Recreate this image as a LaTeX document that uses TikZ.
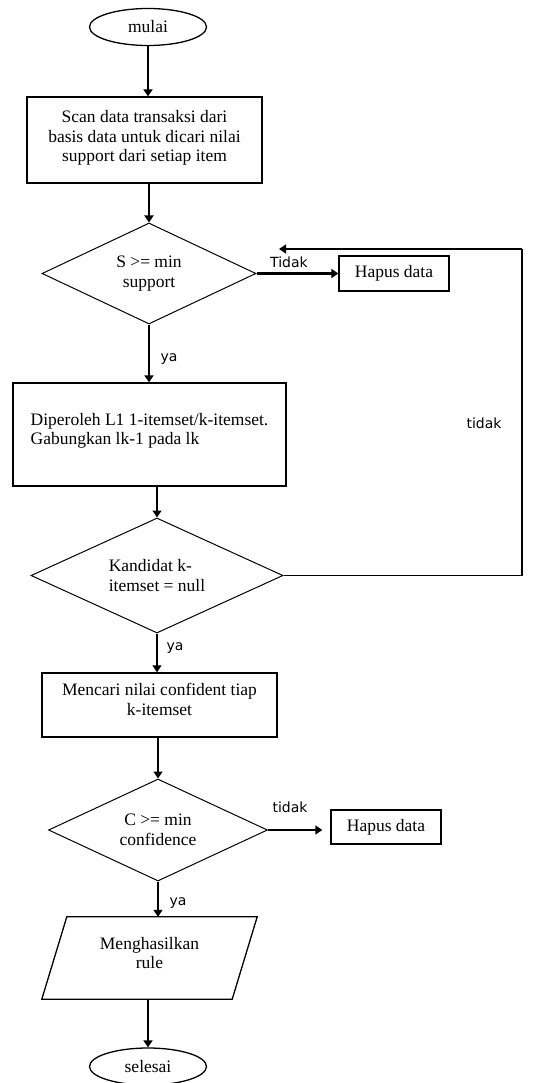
\documentclass[tikz,border=0pt]{standalone}
\usepackage{fontspec}
\setmainfont{Liberation Serif}
\newfontfamily\lblfont{DejaVu Sans}
\usetikzlibrary{shapes.geometric,arrows.meta}
\begin{document}
\begin{tikzpicture}[x=1pt,y=-1pt,
  every node/.style={font=\fontsize{17.5}{19.5}\selectfont},
  proc/.style={draw,line width=1.3pt,rectangle,inner sep=0pt,align=center},
  dec/.style={draw,line width=1pt,diamond,inner sep=0pt,shape aspect=2.2},
  term/.style={draw,line width=1.3pt,ellipse,inner sep=0pt,minimum width=117pt,minimum height=37pt},
  lbl/.style={font=\lblfont\fontsize{14}{16}\selectfont,inner sep=0pt},
  arr/.style={line width=1.3pt,-{Triangle[length=7pt,width=9pt]}},
  tarr/.style={line width=2.2pt,-{Triangle[length=7pt,width=9pt]}},
]
\useasboundingbox (0,0) rectangle (542,1083);

\node[term] (start) at (148,27) {mulai};
\node[proc,minimum width=235pt,minimum height=86pt] (box1) at (144.5,140)
  {Scan data transaksi dari\\basis data untuk dicari nilai\\support dari setiap item\\[-12pt]};
\node[dec,align=center,minimum width=214pt,minimum height=101pt] (d1) at (149,273.5) {S >= min\\support};
\node[proc,minimum width=110pt,minimum height=35pt] (hap1) at (394,273.5) {Hapus data};
\node[proc,align=left,minimum width=273pt,minimum height=103pt] (box2) at (149.5,434.5)
  {Diperoleh L1 1-itemset/k-itemset.\\Gabungkan lk-1 pada lk\\[-8.5pt]};
\node[dec,align=left,minimum width=252pt,minimum height=115pt] (d2) at (157,575.5) {Kandidat k-\\itemset = null};
\node[proc,minimum width=235pt,minimum height=64pt] (box3) at (159.5,705)
  {Mencari nilai confident tiap\\k-itemset\\[-8.5pt]};
\node[dec,align=center,minimum width=219pt,minimum height=102pt] (d3) at (158,830) {C >= min\\confidence};
\node[proc,minimum width=110pt,minimum height=34pt] (hap2) at (386,827) {Hapus data};
\node[align=center,minimum width=215pt,minimum height=82pt,inner sep=0pt] (out) at (149.5,958)
  {Menghasilkan\\rule\\[-9.5pt]};
\draw[line width=1.3pt] ([xshift=25pt]out.north west) -- (out.north east)
  -- ([xshift=-25pt]out.south east) -- (out.south west) -- cycle;
\node[term] (end) at (148,1066.5) {selesai};

\coordinate (loopR1) at (522,575.5);
\coordinate (loopR2) at (522,249);
\coordinate (loopEnd) at (279,249);

\draw[tarr] (start.south) -- (start.south |- box1.north);
\draw[tarr] (d1.north |- box1.south) -- (d1.north);
\draw[tarr] (d1.east) -- (hap1.west);
\draw[tarr] (d1.south) -- (d1.south |- box2.north);
\draw[arr] (d2.north |- box2.south) -- (d2.north);
\draw[line width=1.3pt] (d2.east) -- (loopR1) -- (loopR2);
\draw[arr] (loopR2) -- (loopEnd);
\draw[arr] (d2.south) -- (d2.south |- box3.north);
\draw[arr] (d3.north |- box3.south) -- (d3.north);
\draw[arr,shorten >=8pt] (d3.east) -- (d3.east -| hap2.west);
\draw[arr] (d3.south) -- (d3.south |- out.north);
\draw[tarr] (end.north |- out.south) -- (end.north);

\node[lbl] (lTidak) at (289,262) {Tidak};
\node[lbl] (ltidak) at (484,423) {tidak};
\node[lbl] (lya1) at (169,359) {ya};
\node[lbl] (lya2) at (175,648) {ya};
\node[lbl] (ltidak2) at (290,807) {tidak};
\node[lbl] (lya3) at (178,903) {ya};
\end{tikzpicture}
\end{document}
